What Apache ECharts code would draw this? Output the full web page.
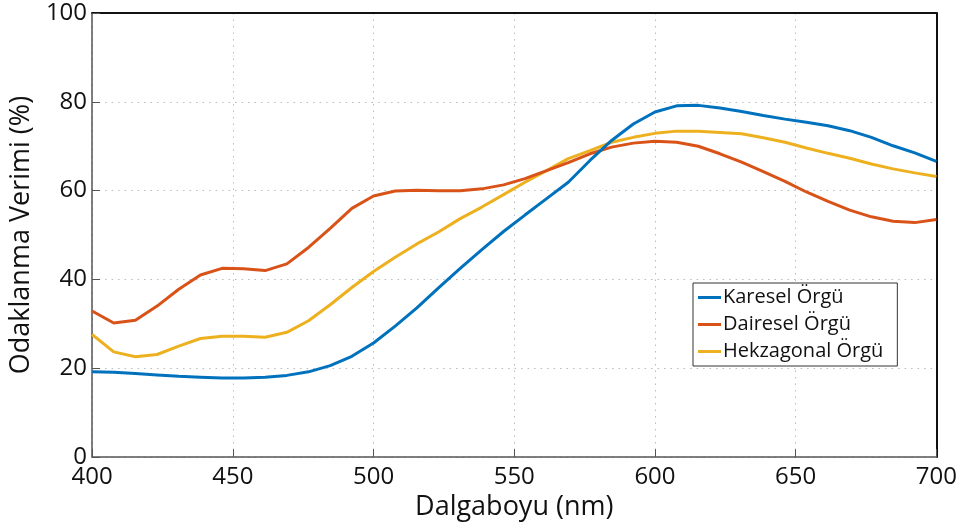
<!DOCTYPE html>
<html>
<head>
<meta charset="utf-8">
<script src="https://cdn.jsdelivr.net/npm/echarts@6/dist/echarts.min.js"></script>
<style>html,body{margin:0;padding:0;background:#fff}#c{width:960px;height:526px}</style>
</head>
<body>
<div id="c"></div>
<script>
const wavelengths = [400, 407.7, 415.4, 423.1, 430.8, 438.5, 446.2, 453.8, 461.5, 469.2,
  476.9, 484.6, 492.3, 500, 507.7, 515.4, 523.1, 530.8, 538.5, 546.2,
  553.8, 561.5, 569.2, 576.9, 584.6, 592.3, 600, 607.7, 615.4, 623.1,
  630.8, 638.5, 646.2, 653.8, 661.5, 669.2, 676.9, 684.6, 692.3, 700];
const karesel = [19.2, 19.1, 18.8, 18.5, 18.2, 18.0, 17.8, 17.8, 18.0, 18.4,
  19.2, 20.6, 22.7, 25.7, 29.5, 33.6, 38.1, 42.5, 46.7, 50.8,
  54.5, 58.2, 61.9, 66.8, 71.3, 75.0, 77.7, 79.1, 79.2, 78.6,
  77.8, 76.9, 76.1, 75.4, 74.6, 73.5, 72.0, 70.1, 68.5, 66.6];
const dairesel = [32.9, 30.2, 30.8, 34.0, 37.8, 41.0, 42.5, 42.4, 42.0, 43.5,
  47.2, 51.5, 56.0, 58.8, 59.9, 60.1, 60.0, 60.0, 60.4, 61.3,
  62.7, 64.5, 66.3, 68.3, 69.8, 70.7, 71.1, 70.9, 70.0, 68.3,
  66.4, 64.3, 62.1, 59.7, 57.6, 55.6, 54.1, 53.1, 52.8, 53.5];
const hekzagonal = [27.6, 23.7, 22.6, 23.1, 25.0, 26.7, 27.2, 27.2, 27.0, 28.1,
  30.7, 34.3, 38.2, 41.8, 45.0, 48.0, 50.7, 53.7, 56.3, 59.1,
  61.9, 64.5, 67.2, 69.0, 70.9, 72.0, 72.9, 73.4, 73.4, 73.1,
  72.8, 71.9, 70.9, 69.6, 68.4, 67.3, 66.0, 64.9, 64.0, 63.2];
const seriesNames = ['Karesel Örgü', 'Dairesel Örgü', 'Hekzagonal Örgü'];
const xTitle = 'Dalgaboyu (nm)';
const yTitle = 'Odaklanma Verimi (%)';

const colors = ['#0072BD', '#D95319', '#EDB120'];
const FONT = 'Open Sans';
const pair = arr => wavelengths.map((x, i) => [x, arr[i]]);

const chart = echarts.init(document.getElementById('c'), null, {renderer: 'canvas'});
chart.setOption({
  animation: false,
  backgroundColor: '#fff',
  textStyle: {fontFamily: FONT},
  grid: {left: 90, right: 21, top: 13, bottom: 66, containLabel: false},
  legend: {
    orient: 'vertical',
    left: 693, top: 283,
    data: seriesNames.map(n => ({name: n, icon: 'rect'})),
    itemWidth: 23, itemHeight: 3, itemGap: 6,
    padding: [4, 14, 4, 5],
    borderColor: '#333', borderWidth: 1, backgroundColor: '#fff',
    textStyle: {fontFamily: FONT, fontSize: 20, color: '#111', lineHeight: 21, padding: [0, 0, 0, -3]}
  },
  xAxis: [{
    type: 'value', min: 400, max: 700, interval: 50, position: 'bottom',
    name: xTitle, nameLocation: 'middle', nameGap: 29,
    nameTextStyle: {fontFamily: FONT, fontSize: 27, color: '#111'},
    axisLine: {show: true, lineStyle: {color: '#555', width: 1.5}},
    axisTick: {show: true, inside: true, length: 8, lineStyle: {color: '#555'}},
    axisLabel: {fontFamily: FONT, fontSize: 24, color: '#111', margin: 8},
    splitLine: {show: true, lineStyle: {color: '#bbb', type: [1.5, 5]}}
  }, {
    type: 'value', min: 400, max: 700, interval: 50, position: 'top',
    axisLine: {show: true, onZero: false, lineStyle: {color: '#111', width: 2}},
    axisTick: {show: false}, axisLabel: {show: false}, splitLine: {show: false}
  }],
  yAxis: [{
    type: 'value', min: 0, max: 100, interval: 20, position: 'left',
    name: yTitle, nameLocation: 'middle', nameGap: 56,
    nameTextStyle: {fontFamily: FONT, fontSize: 27, color: '#111'},
    axisLine: {show: true, lineStyle: {color: '#555', width: 1.5}},
    axisTick: {show: true, inside: true, length: 8, lineStyle: {color: '#555'}},
    axisLabel: {fontFamily: FONT, fontSize: 24, color: '#111', margin: 5},
    splitLine: {show: true, lineStyle: {color: '#bbb', type: [1.5, 5]}}
  }, {
    type: 'value', min: 0, max: 100, interval: 20, position: 'right',
    axisLine: {show: true, onZero: false, lineStyle: {color: '#111', width: 2}},
    axisTick: {show: false}, axisLabel: {show: false}, splitLine: {show: false}
  }],
  series: [karesel, dairesel, hekzagonal].map((arr, i) => ({
    name: seriesNames[i], type: 'line', data: pair(arr),
    xAxisIndex: 0, yAxisIndex: 0,
    showSymbol: false, symbol: 'none',
    lineStyle: {color: colors[i], width: 3},
    itemStyle: {color: colors[i]},
    z: 3 - i
  }))
});
</script>
</body>
</html>
